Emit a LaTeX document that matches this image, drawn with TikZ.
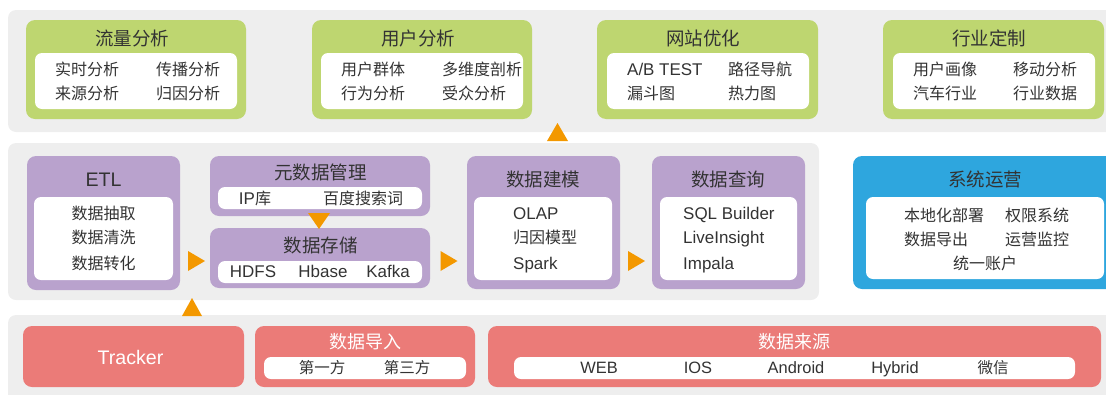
\documentclass[tikz,border=0pt]{standalone}
\usepackage{fontspec}
\setmainfont{Liberation Sans}[Scale=1.06]
\newfontfamily\cjk{Noto Sans CJK SC}
\newcommand\zh[1]{{\cjk #1}}
\usetikzlibrary{calc}
\definecolor{bandgray}{RGB}{238,238,238}
\definecolor{mygreen}{RGB}{190,214,112}
\definecolor{mypurple}{RGB}{185,162,205}
\definecolor{myblue}{RGB}{46,166,222}
\definecolor{myred}{RGB}{235,123,120}
\definecolor{myorange}{RGB}{243,152,0}
\definecolor{txt}{RGB}{51,51,51}
\begin{document}
\begin{tikzpicture}[x=1pt,y=-1pt,
  band/.style={fill=bandgray, rounded corners=8pt},
  panel/.style={anchor=north west, inner sep=0pt, outer sep=0pt, rounded corners=9pt},
  gbox/.style={panel, fill=mygreen},
  pbox/.style={panel, fill=mypurple},
  bbox/.style={panel, fill=myblue},
  rbox/.style={panel, fill=myred},
  wbox/.style={panel, fill=white, rounded corners=7pt},
  ttl/.style={inner sep=0pt, text=txt, font=\fontsize{18.5}{20}\selectfont, text height=16.3pt, text depth=2.2pt},
  wttl/.style={inner sep=0pt, text=white, font=\fontsize{18}{20}\selectfont, text height=15.8pt, text depth=2.2pt},
  itm/.style={inner sep=0pt, text=txt, font=\fontsize{16}{18}\selectfont, text height=14pt, text depth=2pt},
  litm/.style={itm, anchor=west},
  sitm/.style={inner sep=0pt, text=txt, font=\fontsize{15.5}{17}\selectfont, text height=13.6pt, text depth=1.9pt},
  tri/.style={fill=myorange}
]
\useasboundingbox (0,0) rectangle (1106,394);
\clip (0,0) rectangle (1106,394);

% bands
\fill[band] (8,10) rectangle (1130,132);
\fill[band] (8,143) rectangle (819,300);
\fill[band] (8,315) rectangle (1130,410);

% ===== top row =====
\node[gbox, minimum width=220pt, minimum height=99pt] (flow) at (26,20) {};
\node[wbox, minimum width=202pt, minimum height=56pt] (flowW) at (35,53) {};
\node[ttl] (flowT) at (132,38) {\zh{流量分析}};
\node[litm] (f1) at (55,69) {\zh{实时分析}};
\node[litm] (f2) at (156,69) {\zh{传播分析}};
\node[litm] (f3) at (55,93) {\zh{来源分析}};
\node[litm] (f4) at (156,93) {\zh{归因分析}};

\node[gbox, minimum width=220pt, minimum height=99pt] (user) at (312,20) {};
\node[wbox, minimum width=202pt, minimum height=56pt] (userW) at (321,53) {};
\node[ttl] (userT) at (418,38) {\zh{用户分析}};
\node[litm] (u1) at (341,69) {\zh{用户群体}};
\node[litm] (u2) at (442,69) {\zh{多维度剖析}};
\node[litm] (u3) at (341,93) {\zh{行为分析}};
\node[litm] (u4) at (442,93) {\zh{受众分析}};

\node[gbox, minimum width=221pt, minimum height=99pt] (site) at (597,20) {};
\node[wbox, minimum width=202pt, minimum height=56pt] (siteW) at (607,53) {};
\node[ttl] (siteT) at (703,38) {\zh{网站优化}};
\node[litm] (s1) at (627,69) {A/B TEST};
\node[litm] (s2) at (728,69) {\zh{路径导航}};
\node[litm] (s3) at (627,93) {\zh{漏斗图}};
\node[litm] (s4) at (728,93) {\zh{热力图}};

\node[gbox, minimum width=221pt, minimum height=99pt] (ind) at (883,20) {};
\node[wbox, minimum width=202pt, minimum height=56pt] (indW) at (893,53) {};
\node[ttl] (indT) at (989,38) {\zh{行业定制}};
\node[litm] (i1) at (913,69) {\zh{用户画像}};
\node[litm] (i2) at (1013,69) {\zh{移动分析}};
\node[litm] (i3) at (913,93) {\zh{汽车行业}};
\node[litm] (i4) at (1013,93) {\zh{行业数据}};

% ===== middle row =====
\node[pbox, minimum width=153pt, minimum height=134pt] (etl) at (27,156) {};
\node[wbox, minimum width=139pt, minimum height=83pt] (etlW) at (34,197) {};
\node[ttl] (etlT) at (103.5,179) {ETL};
\node[itm] (e1) at (103.5,213) {\zh{数据抽取}};
\node[itm] (e2) at (103.5,237) {\zh{数据清洗}};
\node[itm] (e3) at (103.5,263) {\zh{数据转化}};

\node[pbox, minimum width=220pt, minimum height=60pt] (meta) at (210,156) {};
\node[wbox, minimum width=204pt, minimum height=22pt] (metaW) at (218,187) {};
\node[ttl] (metaT) at (320.5,172.5) {\zh{元数据管理}};
\node[itm] (m1) at (255,198.5) {IP\zh{库}};
\node[itm] (m2) at (363,198.5) {\zh{百度搜索词}};

\node[pbox, minimum width=220pt, minimum height=60pt] (store) at (210,228) {};
\node[wbox, minimum width=204pt, minimum height=22pt] (storeW) at (218,261) {};
\node[ttl] (storeT) at (320.5,245) {\zh{数据存储}};
\node[itm] (st1) at (253,271) {HDFS};
\node[itm] (st2) at (323,271) {Hbase};
\node[itm] (st3) at (388,271) {Kafka};

\node[pbox, minimum width=153pt, minimum height=133pt] (model) at (467,156) {};
\node[wbox, minimum width=138pt, minimum height=83pt] (modelW) at (474,197) {};
\node[ttl] (modelT) at (543,179) {\zh{数据建模}};
\node[litm] (mo1) at (513,213) {OLAP};
\node[litm] (mo2) at (513,237.5) {\zh{归因模型}};
\node[litm] (mo3) at (513,263) {Spark};

\node[pbox, minimum width=153pt, minimum height=133pt] (query) at (652,156) {};
\node[wbox, minimum width=137pt, minimum height=83pt] (queryW) at (660,197) {};
\node[ttl] (queryT) at (728,179) {\zh{数据查询}};
\node[litm] (q1) at (683,213) {SQL Builder};
\node[litm] (q2) at (683,237.5) {LiveInsight};
\node[litm] (q3) at (683,263) {Impala};

\node[bbox, minimum width=270pt, minimum height=133pt] (sys) at (853,156) {};
\node[wbox, minimum width=238pt, minimum height=82pt] (sysW) at (866,197) {};
\node[ttl] (sysT) at (985,179.5) {\zh{系统运营}};
\node[litm] (y1) at (904,215) {\zh{本地化部署}};
\node[litm] (y2) at (1005,215) {\zh{权限系统}};
\node[litm] (y3) at (904,239.5) {\zh{数据导出}};
\node[litm] (y4) at (1005,239.5) {\zh{运营监控}};
\node[itm] (y5) at (985,263.5) {\zh{统一账户}};

% ===== bottom row =====
\node[rbox, minimum width=221pt, minimum height=61pt] (tracker) at (23,326) {};
\node[wttl, font=\fontsize{18.5}{20}\selectfont] (trackerT) at (130.5,358) {Tracker};

\node[rbox, minimum width=220pt, minimum height=61pt] (import) at (255,326) {};
\node[wbox, minimum width=202pt, minimum height=22pt] (importW) at (264,357) {};
\node[wttl] (importT) at (365,341.5) {\zh{数据导入}};
\node[sitm] (im1) at (322,367.5) {\zh{第一方}};
\node[sitm] (im2) at (407,367.5) {\zh{第三方}};

\node[rbox, minimum width=613pt, minimum height=61pt] (source) at (488,326) {};
\node[wbox, minimum width=561pt, minimum height=22pt] (sourceW) at (514,357) {};
\node[wttl] (sourceT) at (794,341.5) {\zh{数据来源}};
\node[sitm] (so1) at (599,367.5) {WEB};
\node[sitm] (so2) at (698,367.5) {IOS};
\node[sitm] (so3) at (796,367.5) {Android};
\node[sitm] (so4) at (895,367.5) {Hybrid};
\node[sitm] (so5) at (993,367.5) {\zh{微信}};

% ===== orange arrow heads =====
\coordinate (a1) at ($(etl.east)!0.5!(store.west)$);
\coordinate (a2) at ($(store.east)!0.5!(model.west)$);
\coordinate (a3) at ($(model.east)!0.5!(query.west)$);
\fill[tri] ($(a1 |- 0,251)+(-7,0)$) -- ++(17,10) -- ++(-17,10) -- cycle;
\fill[tri] ($(a2 |- 0,251)+(-8,0)$) -- ++(17,10) -- ++(-17,10) -- cycle;
\fill[tri] ($(a3 |- 0,251)+(-8,0)$) -- ++(17,10) -- ++(-17,10) -- cycle;
% meta -> store (down)
\fill[tri] (308,213) -- (330,213) -- (319,229) -- cycle;
% tracker -> middle (up)
\fill[tri] (182,316) -- (202,316) -- (192,298) -- cycle;
% middle -> top (up)
\fill[tri] (547,141) -- (568,141) -- (557.5,123) -- cycle;
\end{tikzpicture}
\end{document}
